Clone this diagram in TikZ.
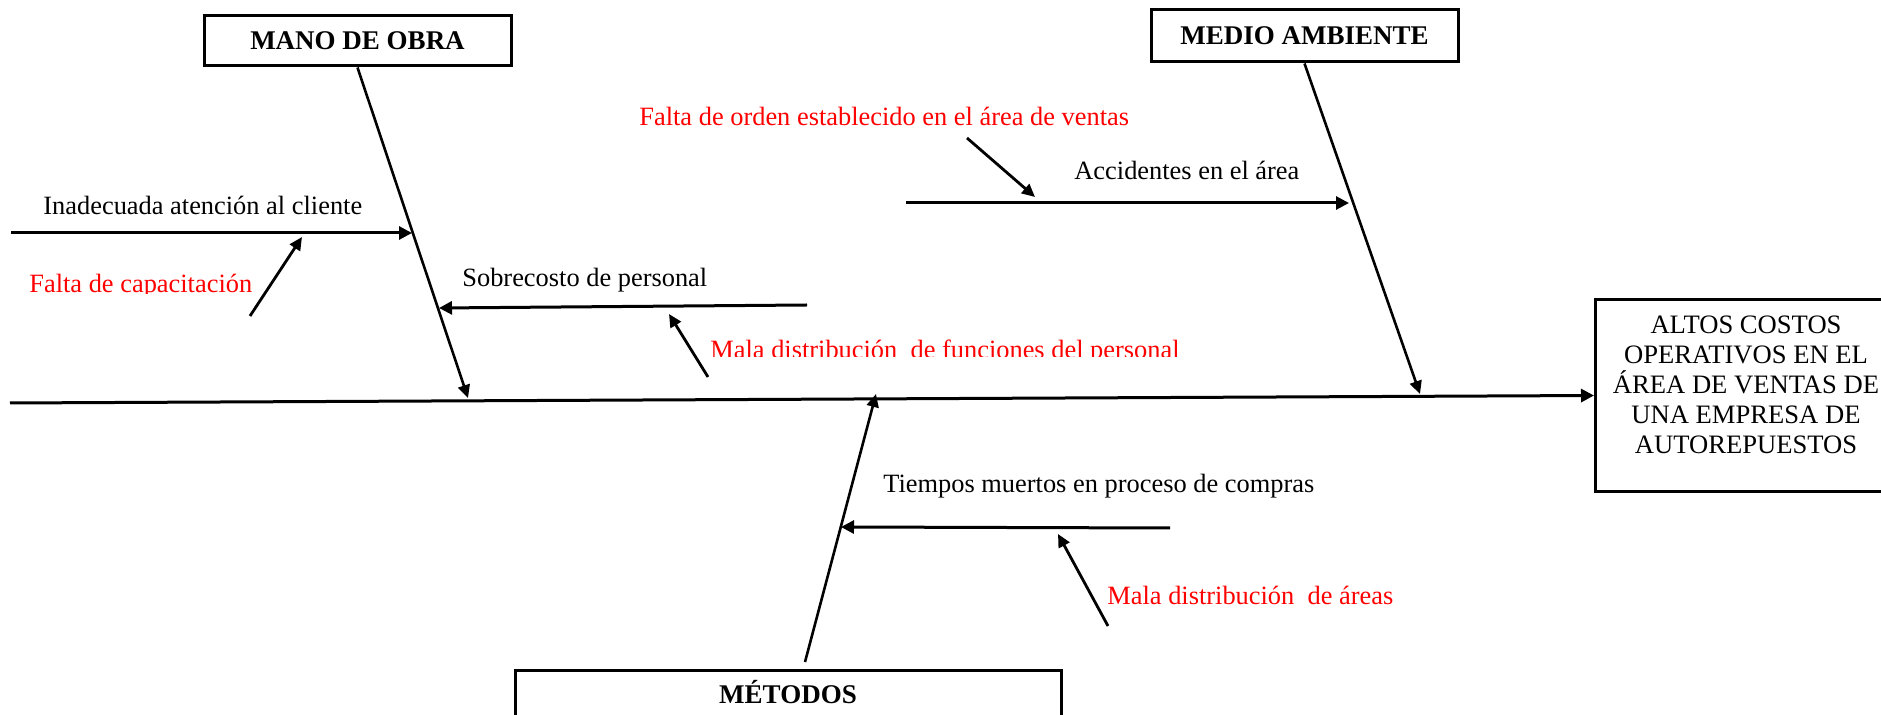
\documentclass[tikz,border=0pt]{standalone}
\usepackage{fontspec}
\setmainfont{Liberation Serif}
\usetikzlibrary{arrows.meta}
\begin{document}
\begin{tikzpicture}[x=0.5pt,y=-0.5pt,
  lbl/.style={font=\fontsize{13.2}{15}\selectfont, inner sep=0pt, anchor=base west},
  cause/.style={lbl, text=red},
  catbox/.style={draw, line width=1.5pt, inner sep=0pt},
  cattext/.style={font=\fontsize{13.5}{16}\selectfont\bfseries, inner sep=0pt},
  arr/.style={line width=1.5pt, -{Triangle[length=6.5pt,width=6.5pt]}},
  bone/.style={line width=1.3pt, -{Triangle[length=6.5pt,width=6pt]}},
  small/.style={line width=1.4pt, -{Triangle[length=6.5pt,width=6pt]}},
]
\useasboundingbox (0,0) rectangle (1881,715);

% category boxes
\node[catbox, cattext, minimum width=153.5pt, minimum height=25pt] (mano) at (357.5,41) {MANO DE OBRA};
\node[catbox, cattext, minimum width=153.5pt, minimum height=26pt] (medio) at (1304.5,36) {MEDIO AMBIENTE};
\node[catbox, minimum width=273pt, minimum height=36pt, anchor=north] (metodos) at (788,669) {};
\node[cattext, anchor=base] (metodostxt) at (788,704) {MÉTODOS};

% effect box
\node[catbox, minimum width=152pt, minimum height=96pt, anchor=north west] (result) at (1594,298) {};
\node[font=\fontsize{13.3}{15}\selectfont, align=center, inner sep=0pt, anchor=north] (resulttxt) at (1746,315)
  {ALTOS COSTOS\\OPERATIVOS EN EL\\ÁREA DE VENTAS DE\\UNA EMPRESA DE\\AUTOREPUESTOS};

% spine
\coordinate (tail) at (10,403);
\draw[arr] (tail) -- (result.west);

% main bones
\coordinate (manotip) at (468,398);
\coordinate (mediotip) at (1420,394);
\coordinate (metstart) at (805,662);
\coordinate (mettip) at (876,394);
\draw[bone] (mano.south) -- (manotip);
\draw[bone] (medio.south) -- (mediotip);
\draw[bone] (metstart) -- (mettip);

% sub-bones
\coordinate (inadS) at (11,233);   \coordinate (inadT) at (412,233);
\coordinate (sobS) at (807,305);   \coordinate (sobT) at (439,308);
\coordinate (accS) at (906,203);   \coordinate (accT) at (1349,203);
\coordinate (tieS) at (1170,528);  \coordinate (tieT) at (841,527);
\draw[arr] (inadS) -- (inadT);
\draw[arr] (sobS) -- (sobT);
\draw[arr] (accS) -- (accT);
\draw[arr] (tieS) -- (tieT);

% cause arrows
\coordinate (capS) at (250,316);  \coordinate (capT) at (302,237);
\coordinate (funS) at (708,377);  \coordinate (funT) at (669,314);
\coordinate (ordS) at (967,138);  \coordinate (ordT) at (1035,197);
\coordinate (areS) at (1108,626); \coordinate (areT) at (1058,534);
\draw[small] (capS) -- (capT);
\draw[small] (funS) -- (funT);
\draw[small] (ordS) -- (ordT);
\draw[small] (areS) -- (areT);

% labels
\node[lbl] (inad) at (43,215) {Inadecuada atención al cliente};
\node[lbl] (sob) at (462,287) {Sobrecosto de personal};
\node[lbl] (acc) at (1074,180) {Accidentes en el área};
\node[lbl] (tie) at (883,493) {Tiempos muertos en proceso de compras};
\node[cause] (ord) at (639,126) {Falta de orden establecido en el área de ventas};
\node[cause] (are) at (1107,605) {Mala distribución\ \ de áreas};
\begin{scope}
  \clip (0,0) rectangle (700,293.5);
  \node[cause] (cap) at (29,293) {Falta de capacitación};
\end{scope}
\begin{scope}
  \clip (600,300) rectangle (1300,357);
  \node[cause] (fun) at (710,358.5) {Mala distribución\ \ de funciones del personal};
\end{scope}
\end{tikzpicture}
\end{document}
